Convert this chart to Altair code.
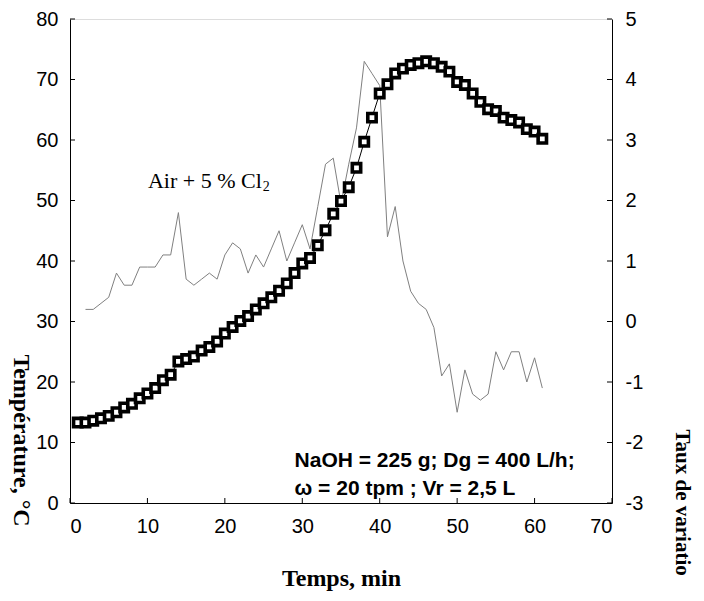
import altair as alt
import pandas as pd

# ---- data ----
minutes = list(range(1, 62))
temperature = [13.3, 13.3, 13.6, 14.0, 14.4, 15.0, 15.8, 16.4, 17.3, 18.1,
               19.0, 20.3, 21.2, 23.4, 23.8, 24.2, 25.2, 25.8, 26.7, 28.0,
               29.1, 30.1, 30.9, 32.0, 33.0, 34.0, 35.1, 36.3, 38.0, 39.6,
               40.5, 42.6, 45.1, 47.8, 49.9, 52.2, 55.4, 59.7, 63.7, 67.7,
               69.2, 71.0, 71.8, 72.4, 72.7, 73.0, 72.7, 72.1, 71.3, 69.6,
               69.1, 67.7, 66.3, 65.1, 64.8, 63.7, 63.3, 62.9, 61.8, 61.4, 60.2]

rate_minutes = list(range(2, 62))
rate = [0.2, 0.2, 0.3, 0.4, 0.8, 0.6, 0.6, 0.9, 0.9, 0.9,
        1.1, 1.1, 1.8, 0.7, 0.6, 0.7, 0.8, 0.7, 1.1, 1.3,
        1.2, 0.8, 1.1, 0.9, 1.2, 1.5, 1.0, 1.3, 1.6, 1.2,
        1.9, 2.6, 2.7, 1.95, 2.6, 3.2, 4.3, 4.1, 3.9, 1.4,
        1.9, 1.0, 0.5, 0.3, 0.2, -0.1, -0.9, -0.7, -1.5, -0.8,
        -1.2, -1.3, -1.2, -0.5, -0.8, -0.5, -0.5, -1.0, -0.6, -1.1]

x_ticks = [0, 10, 20, 30, 40, 50, 60, 70]
y_left_ticks = [0, 10, 20, 30, 40, 50, 60, 70, 80]
y_right_ticks = [-3, -2, -1, 0, 1, 2, 3, 4, 5]

gas_label = ["Air + 5 % Cl"]
gas_label_x = [10.06]
gas_label_y = [52.1]
gas_sub = ["2"]
gas_sub_x = [24.9]
gas_sub_y = [51.6]

cond_lines = ["NaOH = 225 g; Dg = 400 L/h;", "ω = 20 tpm ; Vr = 2,5 L"]
cond_x = [29.0, 29.0]
cond_y = [5.95, 1.32]

# ---- tables ----
temp_df = pd.DataFrame({"t": minutes, "T": temperature})
rate_df = pd.DataFrame({"t": rate_minutes, "r": rate})
xt_df = pd.DataFrame({"v": x_ticks})
ylt_df = pd.DataFrame({"v": y_left_ticks})
yrt_df = pd.DataFrame({"v": y_right_ticks})
gas_df = pd.DataFrame({"x": gas_label_x, "y": gas_label_y, "s": gas_label})
sub_df = pd.DataFrame({"x": gas_sub_x, "y": gas_sub_y, "s": gas_sub})
cond_df = pd.DataFrame({"x": cond_x, "y": cond_y, "s": cond_lines})

W, H = 542, 484
xs = alt.Scale(domain=[0, 70], nice=False, zero=False)
yl = alt.Scale(domain=[0, 80], nice=False, zero=False)
yr = alt.Scale(domain=[-3, 5], nice=False, zero=False)

minus_expr = "datum.value < 0 ? '-' + abs(datum.value) : '' + datum.value"

x_axis = alt.Axis(values=x_ticks, title="Temps, min", grid=False, ticks=False, tickSize=0,
                  labelFont="Liberation Sans", labelFontSize=20, labelColor="black",
                  labelPadding=13, domainColor="black",
                  titleFont="Liberation Serif", titleFontSize=24, titleFontWeight="bold",
                  titleColor="black", titleX=271, titleY=75, titleBaseline="middle",
                  titleAlign="center")

yl_axis = alt.Axis(orient="left", values=y_left_ticks, title="Température, °C", grid=False,
                   ticks=False, tickSize=0, labelFont="Liberation Sans", labelFontSize=20,
                   labelColor="black", labelPadding=12, domainColor="black",
                   titleFont="Liberation Serif", titleFontSize=24, titleFontWeight="bold",
                   titleColor="black", titleAngle=90, titleX=-50, titleY=421,
                   titleAlign="center", titleBaseline="middle")

yr_axis = alt.Axis(orient="right", values=y_right_ticks, title="Taux de variatio", grid=False,
                   ticks=False, tickSize=0, labelFont="Liberation Sans", labelFontSize=20,
                   labelColor="black", labelPadding=13, domainColor="black",
                   labelExpr=minus_expr,
                   titleFont="Liberation Serif", titleFontSize=21, titleFontWeight="bold",
                   titleColor="black", titleAngle=90, titleX=69, titleY=410,
                   titleAlign="left", titleBaseline="middle")

X = alt.X("t:Q", scale=xs, axis=x_axis)

rate_line = alt.Chart(rate_df).mark_line(color="#808080", strokeWidth=1).encode(
    x=X,
    y=alt.Y("r:Q", scale=yr, axis=yr_axis),
)

temp_line = alt.Chart(temp_df).mark_line(color="black", strokeWidth=1).encode(
    x=X,
    y=alt.Y("T:Q", scale=yl, axis=yl_axis),
)

temp_pts = alt.Chart(temp_df).mark_square(size=70, fill="white", stroke="black",
                                          strokeWidth=3.6, opacity=1).encode(
    x=X,
    y=alt.Y("T:Q", scale=yl, axis=None),
)

x_tick_marks = alt.Chart(xt_df).mark_rule(color="black", strokeWidth=1).encode(
    x=alt.X("v:Q", scale=xs, axis=x_axis),
    y=alt.value(H), y2=alt.value(H - 5),
)

yl_tick_marks = alt.Chart(ylt_df).mark_rule(color="black", strokeWidth=1).encode(
    y=alt.Y("v:Q", scale=yl, axis=None),
    x=alt.value(0), x2=alt.value(5),
)

yr_tick_marks = alt.Chart(yrt_df).mark_rule(color="black", strokeWidth=1).encode(
    y=alt.Y("v:Q", scale=yr, axis=None),
    x=alt.value(W), x2=alt.value(W - 5),
)

gas_text = alt.Chart(gas_df).mark_text(font="Liberation Serif", fontSize=22, color="black",
                                       align="left", baseline="alphabetic").encode(
    x=alt.X("x:Q", scale=xs, axis=x_axis),
    y=alt.Y("y:Q", scale=yl, axis=None),
    text="s:N",
)

sub_text = alt.Chart(sub_df).mark_text(font="Liberation Serif", fontSize=14, color="black",
                                       align="left", baseline="alphabetic").encode(
    x=alt.X("x:Q", scale=xs, axis=x_axis),
    y=alt.Y("y:Q", scale=yl, axis=None),
    text="s:N",
)

cond_text = alt.Chart(cond_df).mark_text(font="Liberation Sans", fontSize=21, fontWeight="bold",
                                         color="black", align="left",
                                         baseline="alphabetic").encode(
    x=alt.X("x:Q", scale=xs, axis=x_axis),
    y=alt.Y("y:Q", scale=yl, axis=None),
    text="s:N",
)

chart = alt.layer(
    rate_line, temp_line, temp_pts, x_tick_marks, yl_tick_marks, yr_tick_marks,
    gas_text, sub_text, cond_text,
).resolve_scale(y="independent").properties(
    width=W, height=H,
    autosize=alt.AutoSizeParams(type="none"),
    padding={"left": 62, "top": 11, "right": 84, "bottom": 88},
).configure_view(stroke="black", strokeWidth=1).configure(background="white")

chart.save("out.html", embed_options={"renderer": "svg", "actions": False})
